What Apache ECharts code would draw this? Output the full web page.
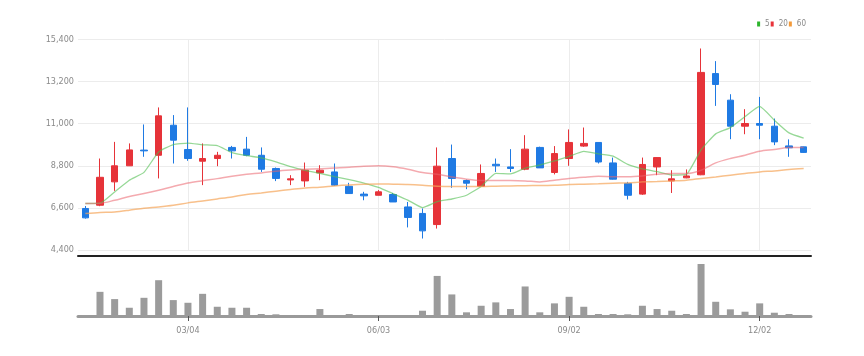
<!DOCTYPE html>
<html>
<head>
<meta charset="utf-8">
<script src="https://cdn.jsdelivr.net/npm/echarts@6/dist/echarts.min.js"></script>
<style>html,body{margin:0;padding:0;background:#fff}#c{width:864px;height:356px}</style>
</head>
<body>
<div id="c"></div>
<script>
const categories = ['01/15','01/22','01/29','02/05','02/12','02/19','02/26','03/04','03/11','03/18','03/25','04/01','04/08','04/15','04/22','04/29','05/06','05/13','05/20','05/27','06/03','06/10','06/17','06/24','07/01','07/08','07/15','07/22','07/29','08/05','08/12','08/19','08/26','09/02','09/09','09/16','09/23','09/30','10/07','10/14','10/21','10/28','11/04','11/11','11/18','11/25','12/02','12/09','12/16','12/23'];
const openValues  = [6570,6740,7960,8800,9620,9350,10920,9650,9040,9180,9760,9670,9350,8660,8060,8010,8430,8480,7730,7320,7260,7300,6650,6310,5730,9180,8030,7730,8880,8740,8620,9760,8450,9180,9830,10020,8950,7880,7320,8740,8010,8170,8330,13620,12230,10870,11010,10870,9840,9790];
const closeValues = [6080,8200,8800,9630,9580,11410,10140,9180,9180,9350,9580,9350,8620,8140,8120,8570,8570,7790,7350,7230,7440,6910,6100,5400,8780,8140,7890,8400,8800,8660,9670,8690,9440,10020,9970,9000,8100,7260,8870,9230,8120,8270,13680,13050,10870,11010,10920,10050,9740,9500];
const lowValues   = [6040,6690,7490,8790,9270,8140,8920,9060,7790,8780,9180,9300,8480,8000,7790,7700,8050,7750,7350,7000,7260,6910,5580,5000,5520,7650,7580,7700,8480,8480,8570,8690,8350,8800,9790,8920,8080,7040,7280,8310,7380,8150,8310,11930,10190,10450,10190,9880,9270,9480];
const highValues  = [6700,9180,10050,9970,10960,11850,11450,11850,9970,9530,9840,10310,9760,8710,8310,8970,8830,8920,7910,7440,7530,7380,6910,6570,9760,9910,8080,8870,9180,9670,10400,9800,9830,10700,10800,10020,9230,7960,9230,9250,8570,8610,14930,14270,12540,11760,12400,11270,10180,9800];
const ma5Values   = [6830,6846,7436,8048,8458,9524,9910,9988,9898,9853,9487,9330,9218,9009,8761,8560,8403,8236,8079,7901,7674,7343,7006,6615,6925,7065,7261,7721,8400,8376,8682,8842,9051,9296,9557,9424,9306,8870,8640,8494,8316,8351,9633,10469,10797,11376,11906,11180,10518,10243];
const ma20Values  = [6830,6840,7000,7200,7350,7520,7720,7900,8020,8130,8260,8360,8430,8520,8580,8623,8640,8680,8720,8780,8800,8750,8620,8450,8360,8220,8100,8032,8032,8032,8011,7958,8048,8137,8200,8250,8230,8230,8272,8361,8398,8398,8570,8952,9182,9354,9563,9652,9757,9757];
const ma60Values  = [6307,6360,6391,6480,6584,6653,6741,6863,6966,7070,7175,7300,7384,7473,7562,7645,7682,7750,7802,7839,7855,7839,7823,7786,7734,7718,7718,7718,7734,7750,7760,7770,7780,7823,7840,7860,7890,7905,7960,7980,8011,8048,8137,8220,8309,8398,8482,8534,8607,8659];
const volumeValues = [10,243,170,83,183,360,160,133,223,93,83,83,20,17,7,3,70,3,20,3,3,3,3,53,403,217,37,103,137,70,297,37,127,193,93,20,20,17,103,70,53,20,523,143,67,43,127,33,20,3];
const yTicks = [4400, 15400, 2200]; // min, max, step
const legendNames = ['5','20','60'];

const candleData = categories.map((c, i) => [openValues[i], closeValues[i], lowValues[i], highValues[i]]);
const showIdx = (i) => i % 13 === 7;
const labelFont = "'Liberation Sans Narrow','DejaVu Sans Condensed','Roboto',sans-serif";

const chart = echarts.init(document.getElementById('c'), null, {renderer: 'canvas'});
chart.setOption({
  animation: false,
  backgroundColor: '#fff',
  legend: {
    data: legendNames,
    right: 53, top: 15,
    icon: 'rect', itemWidth: 3, itemHeight: 5, itemGap: 1,
    textStyle: {color: '#888', fontSize: 8, fontFamily: labelFont}
  },
  grid: [
    {left: 78, right: 53, top: 39.5, height: 210.5},
    {left: 78, right: 53, top: 264, height: 52}
  ],
  xAxis: [
    {
      type: 'category', gridIndex: 0, data: categories, boundaryGap: true,
      offset: 6,
      axisLine: {show: true, lineStyle: {color: '#222', width: 2}},
      axisTick: {show: false}, axisLabel: {show: false},
      splitLine: {show: true, interval: showIdx, alignWithLabel: true, lineStyle: {color: '#ececec', width: 1}}
    },
    {
      type: 'category', gridIndex: 1, data: categories, boundaryGap: true,
      axisLine: {show: true, lineStyle: {color: '#9a9a9a', width: 3}},
      axisTick: {show: true, interval: showIdx, alignWithLabel: true, length: 5, lineStyle: {color: '#555'}},
      axisLabel: {interval: showIdx, color: '#8a8a8a', fontSize: 9, margin: 10, fontFamily: labelFont},
      splitLine: {show: false}
    }
  ],
  yAxis: [
    {
      type: 'value', gridIndex: 0, min: yTicks[0], max: yTicks[1], interval: yTicks[2],
      axisLine: {show: false}, axisTick: {show: false},
      axisLabel: {color: '#8a8a8a', fontSize: 9, margin: 4, fontFamily: labelFont,
        formatter: (v) => v.toLocaleString('en-US')},
      splitLine: {lineStyle: {color: '#ececec'}}
    },
    {
      type: 'value', gridIndex: 1, min: 0, max: 'dataMax',
      axisLine: {show: false}, axisTick: {show: false}, axisLabel: {show: false}, splitLine: {show: false}
    }
  ],
  series: [
    {
      name: 'price', type: 'candlestick', xAxisIndex: 0, yAxisIndex: 0, data: candleData, barWidth: 7,
      itemStyle: {color: '#e63339', color0: '#1f7ae3', borderColor: '#e63339', borderColor0: '#1f7ae3', borderWidth: 1}
    },
    {name: '5', type: 'line', data: ma5Values, symbol: 'none', smooth: 0.15,
      itemStyle: {color: '#2db52d'}, lineStyle: {color: 'rgba(80,190,80,0.6)', width: 1.3}, z: 3},
    {name: '20', type: 'line', data: ma20Values, symbol: 'none', smooth: 0.3,
      itemStyle: {color: '#e8333a'}, lineStyle: {color: 'rgba(235,100,110,0.55)', width: 1.5}, z: 3},
    {name: '60', type: 'line', data: ma60Values, symbol: 'none', smooth: 0.3,
      itemStyle: {color: '#f39a3a'}, lineStyle: {color: 'rgba(245,165,90,0.7)', width: 1.5}, z: 3},
    {
      name: 'volume', type: 'bar', xAxisIndex: 1, yAxisIndex: 1, data: volumeValues, barWidth: 7,
      itemStyle: {color: '#9b9b9b'}
    }
  ]
});
</script>
</body>
</html>
